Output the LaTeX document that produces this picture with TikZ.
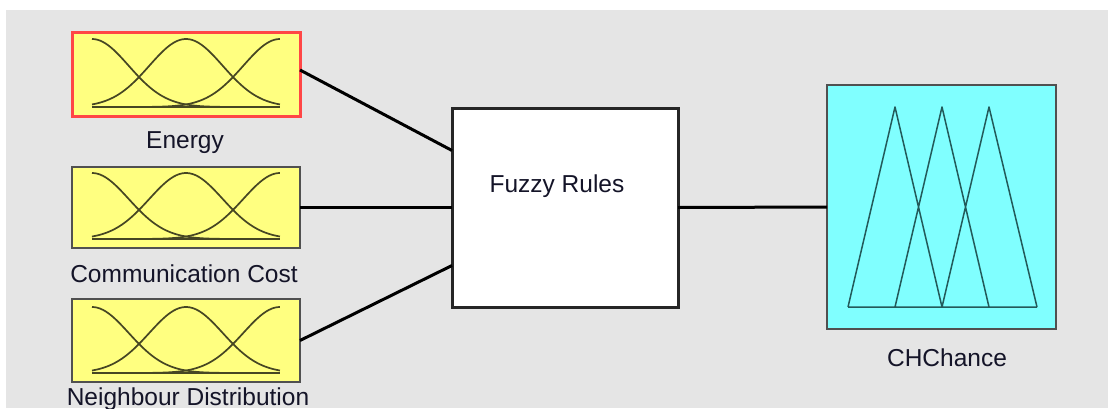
\documentclass[tikz,border=0pt]{standalone}
\usepackage{fontspec}
\setmainfont{Liberation Sans}
\definecolor{bggray}{RGB}{229,229,229}
\definecolor{mfyellow}{RGB}{255,255,128}
\definecolor{mfcyan}{RGB}{128,255,255}
\definecolor{mfred}{RGB}{255,70,70}
\definecolor{boxedge}{RGB}{80,80,80}
\definecolor{curvecol}{RGB}{70,70,35}
\definecolor{tricol}{RGB}{35,90,90}
\definecolor{txtcol}{RGB}{20,20,40}
\newcommand\mfgaussset[2]{%
  % #1 = top y, #2 = bottom y
  \foreach \cc in {0,1,2}{
    \draw[mfcurve] plot[variable=\t,domain=0:2,samples=70,smooth]
      ({92+94*\t},{#2-(#2-#1)*exp(-((\t-\cc)*(\t-\cc))/0.305)});
  }
  \draw[mfcurve,line width=2pt] (92,#2) -- (280,#2);
}
\begin{document}
\begin{tikzpicture}[x=1pt,y=-1pt,
  inbox/.style={draw=boxedge,line width=1.5pt,fill=mfyellow,minimum width=228pt,inner sep=0pt,outer sep=0pt},
  lbl/.style={font=\fontsize{24.5}{28}\selectfont,anchor=base,inner sep=0pt,text=txtcol},
  mfcurve/.style={draw=curvecol,line width=1.7pt},
  conn/.style={draw=black,line width=3pt},
]
\useasboundingbox (0,0) rectangle (1108,408);
\fill[white] (0,0) rectangle (1108,408);
\fill[bggray] (6,10) rectangle (1108,408);

\node[inbox,draw=mfred,line width=3pt,minimum height=84pt] (energy) at (186,74) {};
\node[inbox,minimum height=81pt] (comm) at (186,207.5) {};
\node[inbox,minimum height=83pt] (neigh) at (186,340.5) {};
\node[draw=black!85,line width=3pt,fill=white,minimum width=226pt,minimum height=199pt,inner sep=0pt,outer sep=0pt] (fuzzy) at (565,207.5) {};
\node[draw=boxedge,line width=1.5pt,fill=mfcyan,minimum width=229pt,minimum height=244pt,inner sep=0pt,outer sep=0pt] (out) at (941.5,207) {};

\draw[conn] ([yshift=4pt]energy.east) -- ([yshift=57pt]fuzzy.west);
\draw[conn] (comm.east) -- (fuzzy.west);
\draw[conn] (neigh.east) -- ([yshift=-58pt]fuzzy.west);
\draw[conn] (fuzzy.east) -- (out.west);

% membership functions
\mfgaussset{39}{107}
\mfgaussset{173}{239}
\mfgaussset{307}{373}

\draw[draw=tricol,line width=1.5pt,line join=round]
  (848,307) -- (895,107) -- (942,307)
  (895,307) -- (942,107) -- (989,307)
  (942,307) -- (989,107) -- (1037,307)
  (848,307) -- (1037,307);

% labels
\node[lbl] (energylbl) at (185,148) {Energy};
\node[lbl] (commlbl) at (184,282) {Communication Cost};
\node[lbl] (neighlbl) at (188,405) {Neighbour Distribution};
\node[lbl] (fuzzylbl) at (557,192) {Fuzzy Rules};
\node[lbl] (outlbl) at (947,366) {CHChance};
\end{tikzpicture}
\end{document}
